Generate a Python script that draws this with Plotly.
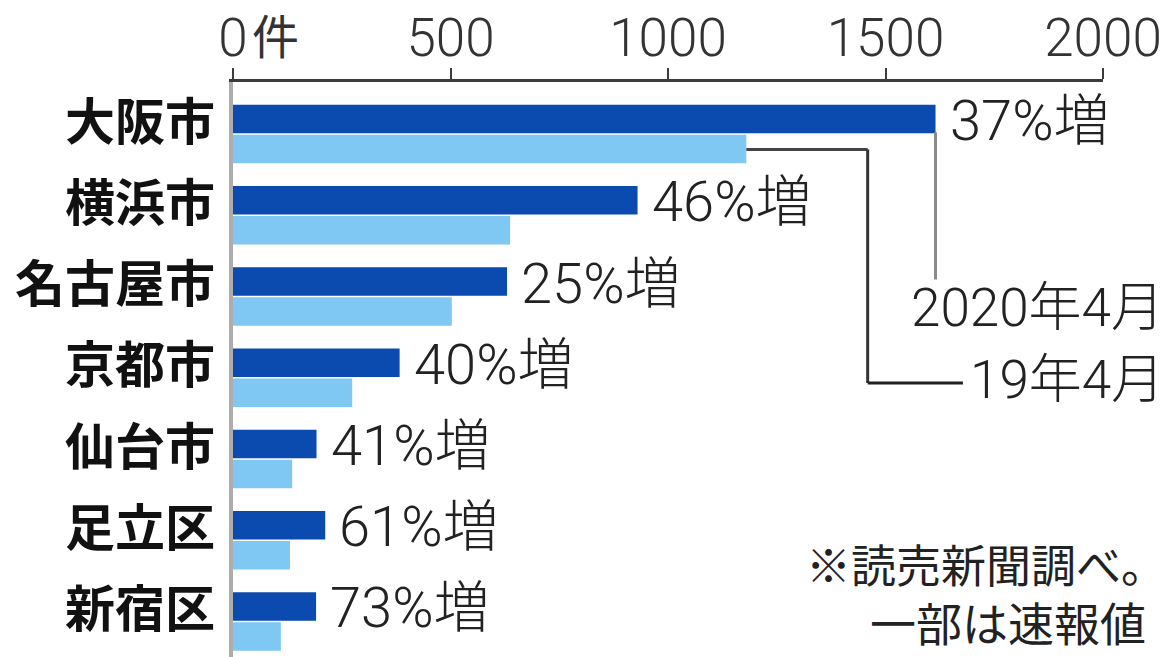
import plotly.graph_objects as go

# Municipalities and counts (件)
cities = ["大阪市", "横浜市", "名古屋市", "京都市", "仙台市", "足立区", "新宿区"]
apr2020 = [1615, 930, 630, 383, 192, 212, 191]
apr2019 = [1180, 637, 503, 274, 136, 131, 110]
growth = ["37%増", "46%増", "25%増", "40%増", "41%増", "61%増", "73%増"]

x_tickvals = [0, 500, 1000, 1500, 2000]
x_ticktext = ["0", "500", "1000", "1500", "2000"]
series_names = ["2020年4月", "19年4月"]

DARK = "#0b4aae"
LIGHT = "#7fc8f3"
NUM_FONT = "Roboto, Noto Sans CJK JP, sans-serif"
CJK_FONT = "Noto Sans CJK JP, sans-serif"

fig = go.Figure()
fig.add_trace(go.Bar(y=cities, x=apr2020, orientation="h", name=series_names[0],
                     marker=dict(color=DARK, line=dict(width=0))))
fig.add_trace(go.Bar(y=cities, x=apr2019, orientation="h", name=series_names[1],
                     marker=dict(color=LIGHT, line=dict(width=0))))

annotations = []
for c, v, g in zip(cities, apr2020, growth):
    annotations.append(dict(x=v, y=c, xref="x", yref="y", text=g, showarrow=False,
                            xanchor="left", yanchor="middle", xshift=12, yshift=13,
                            font=dict(family=NUM_FONT, size=56, color="#222", weight=300)))

# unit next to the zero tick
annotations.append(dict(x=0, y=1, xref="x", yref="paper", text="件", showarrow=False,
                        xanchor="left", yanchor="bottom", xshift=17, yshift=12,
                        font=dict(family=CJK_FONT, size=47, color="#333")))

# series key labels
annotations.append(dict(x=1.072, y=0.607, xref="paper", yref="paper", text=series_names[0],
                        showarrow=False, xanchor="right", yanchor="middle",
                        font=dict(family=NUM_FONT, size=53, color="#222", weight=300)))
annotations.append(dict(x=1.072, y=0.482, xref="paper", yref="paper", text=series_names[1],
                        showarrow=False, xanchor="right", yanchor="middle",
                        font=dict(family=NUM_FONT, size=53, color="#222", weight=300)))

# source note
annotations.append(dict(x=1.0747, y=0.162, xref="paper", yref="paper",
                        text="※読売新聞調べ。", showarrow=False,
                        xanchor="right", yanchor="middle",
                        font=dict(family=CJK_FONT, size=45, color="#222")))
annotations.append(dict(x=1.0517, y=0.062, xref="paper", yref="paper",
                        text="一部は速報値", showarrow=False,
                        xanchor="right", yanchor="middle",
                        font=dict(family=CJK_FONT, size=46, color="#222")))

# leader lines from the top bars to the key labels
key_x_2019 = 1459
key_end_2019 = 1678
shapes = [
    dict(type="line", xref="x", yref="y", x0=apr2020[0], x1=apr2020[0], y0=-0.02, y1=1.79,
         line=dict(color="#8a8a8a", width=3)),
    dict(type="line", xref="x", yref="y", x0=apr2019[0], x1=key_x_2019, y0=0.19, y1=0.19,
         line=dict(color="#444", width=3)),
    dict(type="line", xref="x", yref="y", x0=key_x_2019, x1=key_x_2019, y0=0.19, y1=3.065,
         line=dict(color="#333", width=3)),
    dict(type="line", xref="x", yref="y", x0=key_x_2019, x1=key_end_2019, y0=3.065, y1=3.065,
         line=dict(color="#222", width=3)),
]

fig.update_layout(
    width=1171, height=657,
    margin=dict(l=233, r=68, t=82, b=0),
    paper_bgcolor="white", plot_bgcolor="white",
    barmode="group", bargap=0.26, bargroupgap=0.05,
    showlegend=False,
    annotations=annotations, shapes=shapes,
    xaxis=dict(side="top", range=[0, 2000], tickmode="array",
               tickvals=x_tickvals, ticktext=x_ticktext,
               showgrid=False, zeroline=False,
               showline=True, linecolor="#3c3c3c", linewidth=3,
               ticks="outside", ticklen=11, tickwidth=2, tickcolor="#3c3c3c",
               ticklabelstandoff=-9,
               tickfont=dict(family=NUM_FONT, size=53, color="#333", weight=300)),
    yaxis=dict(range=[6.437, -0.64], showgrid=False, zeroline=False,
               showline=True, linecolor="#adadad", linewidth=4,
               ticks="", ticklabelstandoff=4, ticklabelshift=12,
               tickfont=dict(family=CJK_FONT, size=50, color="#111", weight="bold")),
)

fig.write_html("out.html")
